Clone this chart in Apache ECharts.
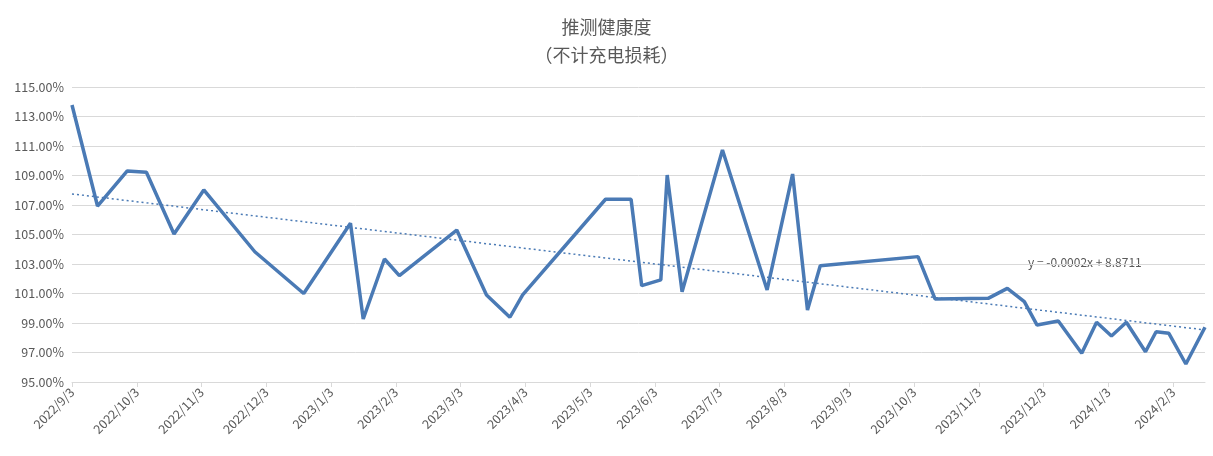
<!DOCTYPE html>
<html><head><meta charset="utf-8">
<script src="https://cdn.jsdelivr.net/npm/echarts@6/dist/echarts.min.js"></script>
<style>html,body{margin:0;padding:0;background:#fff}#c{width:1213px;height:456px}</style>
</head><body><div id="c"></div>
<script>
// days since 2022/9/3
const days = [0,12,26,35,48,62,86,109,131,137,147,154,181,195,206,212,251,263,268,277,280,287,306,327,339,346,352,398,406,431,440,448,454,464,475,482,489,496,505,510,516,524,533];
const health = [113.78,106.93,109.31,109.22,105.03,108.02,103.83,101.0,105.76,99.27,103.34,102.21,105.3,100.9,99.39,100.9,107.39,107.39,101.53,101.92,109.03,101.12,110.73,101.24,109.1,99.88,102.88,103.5,100.63,100.67,101.35,100.45,98.86,99.14,96.95,99.05,98.12,99.05,97.05,98.41,98.3,96.22,98.71];
const trendDays = [0,533];
const trendVals = [107.75,98.53];
const monthLabels = ['2022/9/3','2022/10/3','2022/11/3','2022/12/3','2023/1/3','2023/2/3','2023/3/3','2023/4/3','2023/5/3','2023/6/3','2023/7/3','2023/8/3','2023/9/3','2023/10/3','2023/11/3','2023/12/3','2024/1/3','2024/2/3'];
const monthStep = 30.47;
const chart = echarts.init(document.getElementById('c'));
const col = '#4a7ab5';
chart.setOption({
  animation:false,
  title:{text:'推测健康度\n（不计充电损耗）',left:'center',top:8,textStyle:{fontSize:18,fontWeight:'normal',color:'#595959',lineHeight:28,fontFamily:'Noto Sans CJK SC'}},
  grid:{left:72,right:8,top:87,bottom:74},
  xAxis:{type:'value',min:0,max:533,interval:monthStep,
    axisLine:{lineStyle:{color:'#d9d9d9'}},axisTick:{show:true,length:5,lineStyle:{color:'#d9d9d9'}},
    splitLine:{show:false},
    axisLabel:{rotate:45,color:'#595959',fontSize:12.5,fontFamily:'Noto Sans CJK SC',showMaxLabel:false,
      formatter:v=>{if(v>=533)return '';const i=Math.round(v/monthStep);return monthLabels[i]||'';}}},
  yAxis:{type:'value',min:95,max:115,interval:2,
    axisLine:{show:false},axisTick:{show:false},
    splitLine:{lineStyle:{color:'#d9d9d9'}},
    axisLabel:{color:'#595959',fontSize:12.5,fontFamily:'Noto Sans CJK SC',formatter:v=>v.toFixed(2)+'%'}},
  graphic:[{type:'text',left:1028,top:256,style:{text:'y = -0.0002x + 8.8711',fill:'#595959',font:'12px "Noto Sans CJK SC"'}}],
  series:[
    {type:'line',data:days.map((d,i)=>[d,health[i]]),symbol:'none',lineStyle:{color:col,width:3.5},z:3},
    {type:'line',data:trendDays.map((d,i)=>[d,trendVals[i]]),symbol:'none',lineStyle:{color:col,width:1.5,type:[2,3]},z:2}
  ]
});
</script></body></html>
